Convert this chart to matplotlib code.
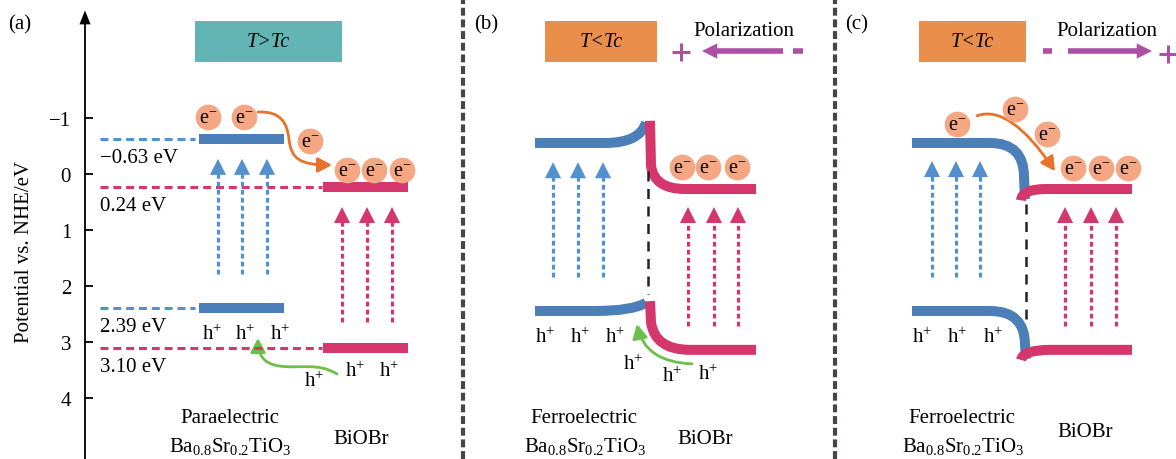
import matplotlib
matplotlib.use("Agg")
import matplotlib.pyplot as plt
from matplotlib.patches import Rectangle, PathPatch, FancyArrowPatch
from matplotlib.path import Path

plt.rcParams["font.family"] = ["Liberation Serif", "DejaVu Serif"]
plt.rcParams["mathtext.fontset"] = "custom"
plt.rcParams["mathtext.rm"] = "Liberation Serif"
plt.rcParams["mathtext.it"] = "Liberation Serif:italic"

# ---- data (potential in eV vs NHE, x in figure pixels) ----
POT_TICKS = [-1, 0, 1, 2, 3, 4]
BST_LEVELS = [-0.63, 2.39]        # CB / VB of paraelectric BST
BIOBR_LEVELS = [0.24, 3.10]       # CB / VB of BiOBr
BST_LABELS = ["\u22120.63 eV", "2.39 eV"]
BIOBR_LABELS = ["0.24 eV", "3.10 eV"]
LABEL_SHIFT = 0.33

# schematic band levels for the ferroelectric panels
FE_CB, FE_VB = -0.554, 2.446
BB_CB, BB_VB = 0.268, 3.14

# electrons (x, potential)
E_A = [(208, -1.018), (244, -1.018), (310, -0.589), (347, -0.071), (374, -0.071), (402, -0.071)]
E_B = [(682, -0.125), (708, -0.125), (737, -0.125)]
E_C = [(957, -0.893), (1015, -1.161), (1047, -0.714), (1073, -0.107), (1101, -0.107), (1128, -0.107)]

# holes (x, potential)
H_A = [(212, 2.857), (245, 2.857), (280, 2.857), (314, 3.70), (355, 3.52), (389, 3.52)]
H_B = [(545, 2.91), (580, 2.91), (615, 2.91), (633, 3.39), (672, 3.61), (708, 3.57)]
H_C = [(922, 2.91), (957, 2.91), (993, 2.91)]

# excitation arrows: x positions, tail, tip
UP_A = ([218, 242, 267], 1.79, -0.27, [342, 367, 392], 2.64, 0.59)
UP_B = ([553, 578, 603], 1.84, -0.21, [688, 714, 738], 2.71, 0.59)
UP_C = ([932, 956, 980], 1.84, -0.23, [1065, 1091, 1116], 2.71, 0.59)

# colours
BLUE = "#4a7fba"
BLUE_DASH = "#5290d0"
PINK = "#d5366b"
TEAL = "#63b4b4"
ORANGE_BOX = "#ea8e4c"
E_FILL = "#f5a683"
ORANGE = "#e8722c"
GREEN = "#6cbf4a"
PURPLE = "#ad4fa3"
SEP = "#4a4545"

YTOP, YBOT = -175 / 56, 285 / 56

fig = plt.figure(figsize=(11.76, 4.6), dpi=100)
ax = fig.add_axes([0, 0, 1, 1])
ax.set_xlim(0, 1176)
ax.set_ylim(YBOT, YTOP)
for s in ["top", "right", "bottom", "left"]:
    ax.spines[s].set_visible(False)
ax.spines["left"].set_position(("data", 85))
ax.set_xticks([])
ax.set_yticks(POT_TICKS)
ax.set_yticklabels([f"{t}".replace("-", "\u2212") for t in POT_TICKS])
ax.tick_params(axis="y", direction="in", length=6, width=1.3, pad=10, labelsize=15)

# potential axis with arrow
ax.plot([85, 85], [YBOT, -2.7], color="black", lw=1.3)
ax.annotate("", xy=(85, -2.92), xytext=(85, -2.62),
            arrowprops=dict(arrowstyle="-|>,head_length=1.0,head_width=0.4",
                            color="black", lw=0, shrinkA=0, shrinkB=0, mutation_scale=10))
ax.text(25, 1.375, "Potential vs. NHE/eV", rotation=90, ha="center", va="center", fontsize=15)


def head(x0, y0, x1, y1, color, hl=1.15, hw=0.58, ms=10):
    ax.annotate("", xy=(x1, y1), xytext=(x0, y0),
                arrowprops=dict(arrowstyle=f"-|>,head_length={hl},head_width={hw}",
                                color=color, lw=0, shrinkA=0, shrinkB=0, mutation_scale=ms))


def up_arrows(spec):
    bx, btail, btip, px, ptail, ptip = spec
    for xs, tail, tip, col in [(bx, btail, btip, BLUE_DASH), (px, ptail, ptip, PINK)]:
        for x in xs:
            ax.plot([x, x], [tail, tip + 0.22], color=col, lw=2.3,
                    linestyle=(0, (1.5, 1.0)), dash_capstyle="butt")
            head(x, tip + 0.29, x, tip, col)


def electrons(pts):
    ax.plot([p[0] for p in pts], [p[1] for p in pts], "o", ms=18.5, mfc=E_FILL, mec="none")
    for x, y in pts:
        ax.text(x, y + 0.02, r"e$^{-}$", ha="center", va="center", fontsize=14.5)


def holes(pts):
    for x, y in pts:
        ax.text(x, y, r"h$^{+}$", ha="center", va="center", fontsize=15)


def band(verts, codes, color):
    ax.add_patch(PathPatch(Path(verts, codes), fill=False, edgecolor=color, lw=7.2,
                           capstyle="butt", joinstyle="round"))


def curved(verts, codes, color):
    ax.add_patch(FancyArrowPatch(path=Path(verts, codes), color=color, lw=2.0,
                                 arrowstyle="-|>,head_length=0.6,head_width=0.32",
                                 mutation_scale=14))


M, L, C3, C4 = Path.MOVETO, Path.LINETO, Path.CURVE3, Path.CURVE4

# separators
for xs in [463, 835]:
    ax.plot([xs, xs], [YBOT, YTOP], color=SEP, lw=3, linestyle=(0, (1.9, 0.9)),
            dash_capstyle="butt")

# panel labels
for x, lab in [(8, "(a)"), (474, "(b)"), (845, "(c)")]:
    ax.text(x, -2.68, lab, ha="left", va="center", fontsize=15)

# temperature boxes
for x0, w, col, lab in [(195, 147, TEAL, "T>Tc"), (545, 112, ORANGE_BOX, "T<Tc"),
                        (919, 107, ORANGE_BOX, "T<Tc")]:
    ax.add_patch(Rectangle((x0, -2.732), w, 0.732, facecolor=col, edgecolor="none"))
    ax.text(x0 + w / 2, -2.36, lab, ha="center", va="center", fontsize=14.5, fontstyle="italic")

# ---------------- panel (a) ----------------
for lvl, lab in zip(BST_LEVELS, BST_LABELS):
    ax.plot([100, 195], [lvl, lvl], color=BLUE_DASH, lw=2.2, linestyle=(0, (2.6, 1.6)))
    ax.plot([199, 284], [lvl, lvl], color=BLUE, lw=7.2, solid_capstyle="butt")
    ax.text(100, lvl + LABEL_SHIFT, lab, ha="left", va="center", fontsize=15)
for lvl, lab in zip(BIOBR_LEVELS, BIOBR_LABELS):
    ax.plot([100, 322], [lvl, lvl], color=PINK, lw=2.2, linestyle=(0, (2.6, 1.6)))
    ax.plot([323, 408], [lvl, lvl], color=PINK, lw=7.2, solid_capstyle="butt")
    ax.text(100, lvl + LABEL_SHIFT, lab, ha="left", va="center", fontsize=15)

up_arrows(UP_A)
curved([(258, -1.107), (282, -1.125), (287, -0.893), (289, -0.625),
        (291, -0.268), (300, -0.161), (332, -0.161)], [M, C4, C4, C4, C4, C4, C4], ORANGE)
curved([(337, 3.571), (318, 3.36), (300, 3.48), (280, 3.43),
        (262, 3.39), (258, 3.2), (258, 2.93)], [M, C4, C4, C4, C4, C4, C4], GREEN)
electrons(E_A)
holes(H_A)
ax.text(230, 4.34, "Paraelectric", ha="center", va="center", fontsize=15)
ax.text(230, 4.84, r"Ba$_{0.8}$Sr$_{0.2}$TiO$_{3}$", ha="center", va="center", fontsize=15)
ax.text(361, 4.73, "BiOBr", ha="center", va="center", fontsize=15)

# ---------------- panel (b) ----------------
up_arrows(UP_B)
band([(535, FE_CB), (605, FE_CB), (640, FE_CB), (646, -0.92)], [M, L, C3, C3], BLUE)
band([(535, FE_VB), (595, FE_VB), (632, FE_VB), (646, 2.30)], [M, L, C3, C3], BLUE)
band([(650, -0.95), (651, -0.15), (654, BB_CB), (685, BB_CB), (756, BB_CB)],
     [M, L, C3, C3, L], PINK)
band([(650, 2.27), (651, 2.65), (655, BB_VB), (690, BB_VB), (756, BB_VB)],
     [M, L, C3, C3, L], PINK)
ax.plot([648, 648], [-0.054, 2.14], color="#222222", lw=1.8, linestyle=(0, (4, 3)))
curved([(692, 3.39), (645, 3.36), (637, 2.68)], [M, C3, C3], GREEN)
electrons(E_B)
holes(H_B)
ax.text(744, -2.554, "Polarization", ha="center", va="center", fontsize=15)
ax.plot([783, 712], [-2.196, -2.196], color=PURPLE, lw=4, solid_capstyle="butt")
head(718, -2.196, 702, -2.196, PURPLE, hl=1.1, hw=0.55, ms=10)
ax.plot([793, 803], [-2.196, -2.196], color=PURPLE, lw=4, solid_capstyle="butt")
ax.plot([681], [-2.18], "+", ms=12.5, mew=2.2, color=PURPLE)
ax.text(584, 4.34, "Ferroelectric", ha="center", va="center", fontsize=15)
ax.text(585, 4.84, r"Ba$_{0.8}$Sr$_{0.2}$TiO$_{3}$", ha="center", va="center", fontsize=15)
ax.text(705, 4.73, "BiOBr", ha="center", va="center", fontsize=15)

# ---------------- panel (c) ----------------
up_arrows(UP_C)
band([(912, FE_CB), (990, FE_CB), (1024, FE_CB), (1024, 0.05), (1025, 0.45)],
     [M, L, C3, C3, L], BLUE)
band([(912, FE_VB), (990, FE_VB), (1025, FE_VB), (1025, 3.05), (1026, 3.30)],
     [M, L, C3, C3, L], BLUE)
band([(1021, 0.47), (1022, BB_CB), (1046, BB_CB), (1132, BB_CB)], [M, C3, C3, L], PINK)
band([(1021, 3.32), (1023, BB_VB), (1050, BB_VB), (1132, BB_VB)], [M, C3, C3, L], PINK)
ax.plot([1026, 1026], [0.536, 2.71], color="#222222", lw=1.8, linestyle=(0, (4, 3)))
curved([(977, -1.04), (1010, -1.25), (1055, -0.05)], [M, C3, C3], ORANGE)
electrons(E_C)
holes(H_C)
ax.text(1107, -2.554, "Polarization", ha="center", va="center", fontsize=15)
ax.plot([1068, 1138], [-2.196, -2.196], color=PURPLE, lw=4, solid_capstyle="butt")
head(1136, -2.196, 1152, -2.196, PURPLE, hl=1.1, hw=0.55, ms=10)
ax.plot([1043, 1052], [-2.196, -2.196], color=PURPLE, lw=4, solid_capstyle="butt")
ax.plot([1168], [-2.14], "+", ms=12.5, mew=2.2, color=PURPLE, clip_on=False)
ax.text(962, 4.34, "Ferroelectric", ha="center", va="center", fontsize=15)
ax.text(963, 4.84, r"Ba$_{0.8}$Sr$_{0.2}$TiO$_{3}$", ha="center", va="center", fontsize=15)
ax.text(1085, 4.59, "BiOBr", ha="center", va="center", fontsize=15)

fig.savefig("out.png", dpi=100)
